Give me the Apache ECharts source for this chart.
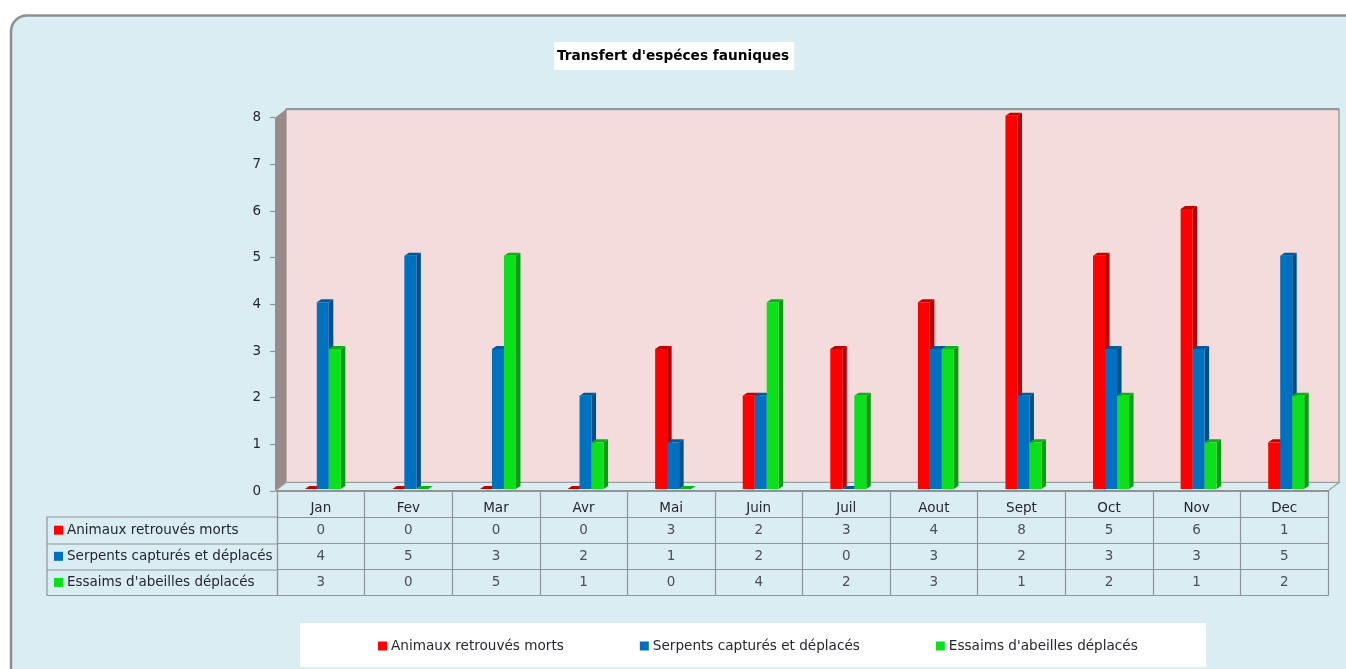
<!DOCTYPE html>
<html><head><meta charset="utf-8">
<style>html,body{margin:0;padding:0;background:#fff}#c{width:1346px;height:669px}</style>
<script src="https://cdn.jsdelivr.net/npm/echarts@6/dist/echarts.min.js"></script>
</head><body><div id="c"></div>
<script>
const months = ['Jan','Fev','Mar','Avr','Mai','Juin','Juil','Aout','Sept','Oct','Nov','Dec'];
const animaux = [0,0,0,0,3,2,3,4,8,5,6,1];
const serpents = [4,5,3,2,1,2,0,3,2,3,3,5];
const essaims = [3,0,5,1,0,4,2,3,1,2,1,2];
const names = ['Animaux retrouvés morts','Serpents capturés et déplacés',"Essaims d'abeilles déplacés"];
const colors = ['#ff0000','#0070c0','#0ce01c'];
const topColors = ['#c00000','#00589a','#0ab016'];
const sideColors = ['#b00000','#004f88','#0a9d14'];
const FONT = 'DejaVu Sans', TXT = '#26262e', LINE = '#8f9496';
const BW = 12, DX = 4.5, DY = 3;

const chart = echarts.init(document.getElementById('c'), null, {renderer:'canvas'});
const rows = ['', ...names];

function barSeries(s, vals){
  return {
    type:'custom', name:names[s], xAxisIndex:0, yAxisIndex:0, z:5+s,
    itemStyle:{color:colors[s]},
    data: vals.map((v,i)=>[i,v]),
    encode:{x:0,y:1},
    renderItem(params, api){
      const p = api.coord([api.value(0), api.value(1)]);
      const b = api.coord([api.value(0), 0]);
      const x = p[0] + 2 + (s-1)*BW - BW/2, y = p[1]-2, y0 = b[1]-2, xr = x+BW;
      return {type:'group', children:[
        {type:'polygon', shape:{points:[[xr,y],[xr+DX,y-DY],[xr+DX,y0-DY],[xr,y0]]}, style:{fill:sideColors[s]}},
        {type:'polygon', shape:{points:[[x,y],[x+DX,y-DY],[xr+DX,y-DY],[xr,y]]}, style:{fill:topColors[s]}},
        {type:'rect', shape:{x:x,y:y,width:BW,height:y0-y}, style:{fill:colors[s]}}
      ]};
    }
  };
}
function cellSeries(r, vals){
  return {
    type:'scatter', xAxisIndex:1, yAxisIndex:1, symbolSize:0, silent:true,
    data: vals.map((v,i)=>[i,names[r],v]),
    label:{show:true, position:'inside', formatter:p=>String(p.value[2]), color:TXT, fontFamily:FONT, fontSize:13.5}
  };
}
const wall = {
  type:'custom', xAxisIndex:0, yAxisIndex:0, z:1, silent:true, data:[[0,0]],
  renderItem(params, api){
    const c = params.coordSys, L=c.x-2, T=c.y, R=c.x+c.width, B=c.y+c.height, dx=11, dy=8.5;
    return {type:'group', children:[
      {type:'polygon', shape:{points:[[L+dx,T-dy],[R+dx,T-dy],[R+dx,B-dy],[L+dx,B-dy]]}, style:{fill:'#f3dcdb', stroke:'#9aa0a2', lineWidth:1.5}},
      {type:'line', shape:{x1:L+dx,y1:T-dy,x2:R+dx,y2:T-dy}, style:{stroke:'#90989a', lineWidth:2.2}},
      {type:'polygon', shape:{points:[[L,T],[L+dx,T-dy],[L+dx,B-dy],[L,B]]}, style:{fill:'#9a8a8a'}},
      {type:'polygon', shape:{points:[[L,B],[L+dx,B-dy],[R+dx,B-dy],[R,B]]}, style:{fill:'#dcedf2', stroke:'#9aa0a2', lineWidth:1.2}}
    ]};
  }
};

const rich = {};
names.forEach((n,i)=>{ rich['m'+i] = {width:9, height:9, backgroundColor:colors[i]}; rich['t'+i]={padding:[0,0,0,4], color:TXT, fontFamily:FONT, fontSize:13.5}; });

chart.setOption({
  animation:false,
  backgroundColor:'#ffffff',
  textStyle:{fontFamily:FONT},
  title:{text:"Transfert d'espéces fauniques", left:554, top:42,
    backgroundColor:'#ffffff', padding:[7,5,7,3],
    textStyle:{fontFamily:FONT, fontSize:13.7, fontWeight:'bold', color:'#000'}},
  legend:{data:names, left:378, top:639, itemWidth:9, itemHeight:9, itemGap:76, icon:'rect', selectedMode:false, padding:0,
    textStyle:{fontFamily:FONT, fontSize:13.6, color:TXT, padding:[0,0,0,-1]}, z:10},
  graphic:[
    {type:'rect', z:-10, shape:{x:11,y:15.5,width:1350,height:690,r:16}, style:{fill:'#daedf3', stroke:'#8f8f8f', lineWidth:2.5}},
    {type:'rect', z:-5, shape:{x:300,y:623,width:906,height:44}, style:{fill:'#ffffff'}},
    {type:'polyline', z:3, shape:{points:[[277,517],[47,517],[47,595.5],[277,595.5]]}, style:{stroke:LINE, lineWidth:1.2, fill:null}},
    {type:'line', z:3, shape:{x1:47,y1:544,x2:277,y2:544}, style:{stroke:LINE, lineWidth:1.2}},
    {type:'line', z:3, shape:{x1:47,y1:570,x2:277,y2:570}, style:{stroke:LINE, lineWidth:1.2}}
  ],
  grid:[
    {left:277, top:117.7, width:1051, height:373.3},
    {left:277, top:491, width:1051, height:104.5}
  ],
  xAxis:[
    {gridIndex:0, type:'category', data:months, axisTick:{show:false},
     axisLine:{show:true, lineStyle:{color:LINE, width:2}},
     axisLabel:{color:TXT, fontFamily:FONT, fontSize:13.5, margin:10}, z:6},
    {gridIndex:1, type:'category', data:months, axisLabel:{show:false}, axisTick:{show:false},
     axisLine:{show:true, lineStyle:{color:LINE, width:1.2}},
     splitLine:{show:true, interval:0, lineStyle:{color:LINE, width:1.2}}}
  ],
  yAxis:[
    {gridIndex:0, type:'value', min:0, max:8, interval:1, offset:2,
     splitLine:{show:false},
     axisLine:{show:false},
     axisTick:{show:true, length:5, lineStyle:{color:LINE, width:1.2}},
     axisLabel:{color:TXT, fontFamily:FONT, fontSize:13.5, margin:14, padding:[2,0,0,0]}},
    {gridIndex:1, type:'category', inverse:true, data:rows,
     axisLine:{show:true, lineStyle:{color:LINE, width:1.2}}, axisTick:{show:false},
     splitLine:{show:true, interval:0, lineStyle:{color:LINE, width:1.2}},
     axisLabel:{interval:0, align:'left', margin:223, color:TXT, fontFamily:FONT, fontSize:13.5, rich,
       formatter:(v)=>{ const i=names.indexOf(v); return i<0?'':`{m${i}|}{t${i}|${v}}`; }}}
  ],
  series:[wall, barSeries(0,animaux), barSeries(1,serpents), barSeries(2,essaims),
    cellSeries(0,animaux), cellSeries(1,serpents), cellSeries(2,essaims)]
});
</script></body></html>
